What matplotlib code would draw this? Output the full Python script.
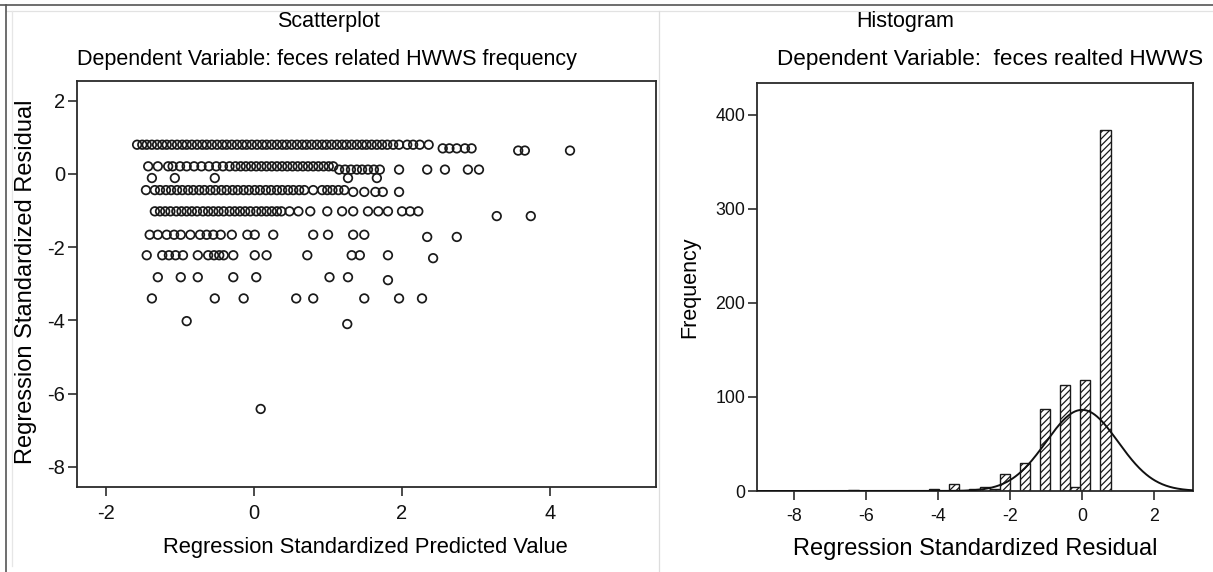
import numpy as np
import matplotlib
matplotlib.use("Agg")
import matplotlib.pyplot as plt
from matplotlib.lines import Line2D

# ---------------- data ----------------
# Scatterplot: each row = one residual level, x = standardized predicted value
row_080_x = [-1.58, -1.51, -1.45, -1.38, -1.31, -1.24, -1.18, -1.11, -1.04, -0.97,
             -0.91, -0.84, -0.77, -0.70, -0.64, -0.57, -0.50, -0.43, -0.37, -0.30,
             -0.23, -0.16, -0.10, -0.03, 0.04, 0.11, 0.17, 0.24, 0.31, 0.38,
             0.44, 0.51, 0.58, 0.65, 0.71, 0.78, 0.85, 0.92, 0.98, 1.05,
             1.12, 1.19, 1.25, 1.32, 1.39, 1.46, 1.52, 1.59, 1.66, 1.73,
             1.80, 1.88, 1.96, 2.07, 2.15, 2.24, 2.36]
row_070_x = [2.55, 2.64, 2.74, 2.85, 2.94]
row_065_x = [3.57, 3.66, 4.27]
row_021_x = [-1.43, -1.30, -1.16, -1.10, -1.00, -0.91, -0.81, -0.71, -0.61, -0.51,
             -0.42, -0.33, -0.25, -0.18, -0.11, -0.04, 0.03, 0.10, 0.17, 0.24,
             0.31, 0.38, 0.45, 0.52, 0.59, 0.66, 0.73, 0.80, 0.87, 0.94, 1.01, 1.07]
row_012_x = [1.15, 1.23, 1.31, 1.39, 1.46, 1.54, 1.62, 1.70, 1.96, 2.34, 2.58, 2.89, 3.04]
row_m011_x = [-1.38, -1.07, -0.53, 1.27, 1.66]
row_m044_x = [-1.46, -1.34, -1.27, -1.19, -1.12, -1.04, -0.97, -0.89, -0.82, -0.74,
              -0.67, -0.59, -0.52, -0.44, -0.37, -0.29, -0.22, -0.14, -0.07, 0.01,
              0.08, 0.16, 0.23, 0.31, 0.38, 0.46, 0.53, 0.61, 0.68, 0.80,
              0.92, 0.99, 1.06, 1.14, 1.22]
row_m049_x = [1.34, 1.49, 1.64, 1.74, 1.96]
row_m102_x = [-1.34, -1.27, -1.20, -1.13, -1.05, -0.98, -0.91, -0.84, -0.77, -0.69,
              -0.62, -0.55, -0.48, -0.41, -0.33, -0.26, -0.19, -0.12, -0.05, 0.03,
              0.10, 0.17, 0.24, 0.31, 0.37, 0.48, 0.60, 0.76, 0.99, 1.19,
              1.34, 1.54, 1.68, 1.81, 2.00, 2.11, 2.22]
row_m115_x = [3.28, 3.74]
row_m166_x = [-1.41, -1.30, -1.18, -1.08, -0.99, -0.86, -0.73, -0.64, -0.55, -0.45,
              -0.30, -0.09, 0.01, 0.26, 0.80, 1.00, 1.34, 1.49]
row_m172_x = [2.34, 2.74]
row_m222_x = [-1.45, -1.24, -1.15, -1.06, -0.96, -0.76, -0.62, -0.54, -0.47, -0.41,
              -0.28, 0.01, 0.17, 0.72, 1.32, 1.43, 1.81]
row_m230_x = [2.42]
row_m282_x = [-1.30, -0.99, -0.76, -0.28, 0.03, 1.02, 1.27]
row_m290_x = [1.81]
row_m340_x = [-1.38, -0.53, -0.14, 0.57, 0.80, 1.49, 1.96, 2.27]
row_m402_x = [-0.91]
row_m410_x = [1.26]
row_m642_x = [0.09]

scatter_rows = [
    (0.80, row_080_x), (0.70, row_070_x), (0.64, row_065_x),
    (0.21, row_021_x), (0.12, row_012_x), (-0.11, row_m011_x),
    (-0.44, row_m044_x), (-0.49, row_m049_x), (-1.02, row_m102_x),
    (-1.15, row_m115_x), (-1.66, row_m166_x), (-1.72, row_m172_x),
    (-2.22, row_m222_x), (-2.30, row_m230_x), (-2.82, row_m282_x),
    (-2.90, row_m290_x), (-3.40, row_m340_x), (-4.02, row_m402_x),
    (-4.10, row_m410_x), (-6.42, row_m642_x),
]

# Histogram: bin centres of the regression standardized residual and counts
hist_centers = [0.65, 0.09, -0.19, -0.47, -1.03, -1.59, -2.15, -2.43, -2.71,
                -2.99, -3.55, -4.11, -6.35]
hist_counts = [384, 118, 4, 113, 87, 30, 18, 2, 4, 2, 7, 2, 1]
hist_bin_width = 0.28
resid_mean = 0.0
resid_sd = 0.999

scatter_xticks = [-2, 0, 2, 4]
scatter_yticks = [2, 0, -2, -4, -6, -8]
hist_xticks = [-8, -6, -4, -2, 0, 2]
hist_yticks = [0, 100, 200, 300, 400]

# ---------------- figure ----------------
W, H, DPI = 1213, 572, 100
plt.rcParams["font.family"] = ["Liberation Sans", "DejaVu Sans"]
plt.rcParams["axes.unicode_minus"] = False
plt.rcParams["hatch.color"] = "#222222"
plt.rcParams["hatch.linewidth"] = 0.9

fig = plt.figure(figsize=(W / DPI, H / DPI), dpi=DPI)
fig.patch.set_facecolor("white")


def fx(px):
    return px / W


def fy(py):
    return 1 - py / H


def axes_px(l, t, r, b):
    return fig.add_axes([fx(l), fy(b), (r - l) / W, (b - t) / H])


# outer frame lines of the composite picture
fig.add_artist(Line2D([0, 1], [fy(4.5), fy(4.5)], color="#555555", lw=1.2))
fig.add_artist(Line2D([fx(6), 1], [fy(10.5), fy(10.5)], color="#e2e2e2", lw=0.9))
fig.add_artist(Line2D([fx(5.5), fx(5.5)], [fy(4.5), 0], color="#555555", lw=1.2))
fig.add_artist(Line2D([fx(12), fx(12)], [fy(10.5), fy(566)], color="#e6e6e6", lw=0.9))
fig.add_artist(Line2D([fx(659), fx(659)], [fy(10.5), 0], color="#dddddd", lw=0.9))

TXT = 15.5

# ---------------- scatterplot ----------------
ax1 = axes_px(77, 81, 656, 487)
for level, xs in scatter_rows:
    ax1.scatter(xs, [level] * len(xs), s=38, facecolors="none",
                edgecolors="#1a1a1a", linewidths=1.25, zorder=3)
ax1.set_xlim(-2.392, 5.432)
ax1.set_ylim(-8.552, 2.541)
ax1.set_xticks(scatter_xticks)
ax1.set_yticks(scatter_yticks)

# ---------------- histogram ----------------
ax2 = axes_px(757, 83, 1193, 491)
ax2.bar(hist_centers, hist_counts, width=hist_bin_width, facecolor="white",
        edgecolor="#1a1a1a", linewidth=1.0, hatch="/////", zorder=2)
n_total = sum(hist_counts)
xx = np.linspace(-9.03, 3.08, 600)
curve = n_total * hist_bin_width * np.exp(-0.5 * ((xx - resid_mean) / resid_sd) ** 2) / (
    resid_sd * np.sqrt(2 * np.pi))
ax2.plot(xx, curve, color="#111111", lw=1.4, zorder=3)
ax2.set_xlim(-9.03, 3.08)
ax2.set_ylim(0, 434)
ax2.set_xticks(hist_xticks)
ax2.set_yticks(hist_yticks)

for ax, tsize in ((ax1, 14.5), (ax2, 12.8)):
    for sp in ax.spines.values():
        sp.set_color("#2a2a2a")
        sp.set_linewidth(1.3)
    ax.tick_params(axis="both", direction="out", length=6.5, width=1.1,
                   colors="#1a1a1a", labelsize=tsize, labelcolor="#111111")
    ax.tick_params(axis="x", pad=6)
    ax.tick_params(axis="y", pad=2)

# ---------------- texts ----------------
fig.text(fx(329), fy(22), "Scatterplot", ha="center", va="center", fontsize=TXT)
fig.text(fx(327), fy(60), "Dependent Variable: feces related HWWS frequency",
         ha="center", va="center", fontsize=TXT)
fig.text(fx(365), fy(548), "Regression Standardized Predicted Value",
         ha="center", va="center", fontsize=15.8)
fig.text(fx(26), fy(282), "Regression Standardized Residual", ha="center",
         va="center", rotation=90, fontsize=17)

fig.text(fx(905), fy(22), "Histogram", ha="center", va="center", fontsize=TXT)
fig.text(fx(777), fy(60), "Dependent Variable:  feces realted HWWS",
         ha="left", va="center", fontsize=16.2)
fig.text(fx(975), fy(549), "Regression Standardized Residual",
         ha="center", va="center", fontsize=17)
fig.text(fx(690), fy(287), "Frequency", ha="center", va="center",
         rotation=90, fontsize=TXT)

fig.savefig("out.png", dpi=DPI, facecolor="white")
